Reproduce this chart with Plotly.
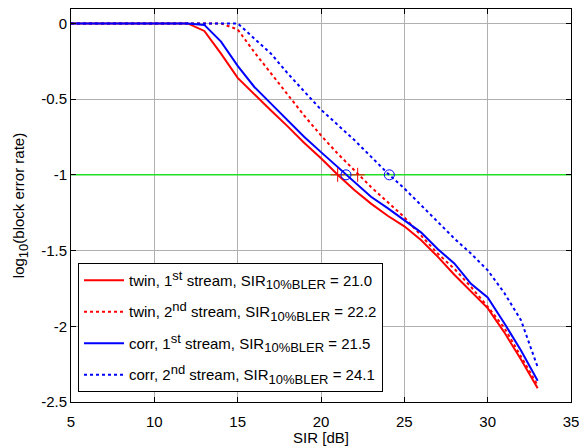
import plotly.graph_objects as go

sir = list(range(5, 34))

twin_1st = [0, 0, 0, 0, 0, 0, 0, 0, -0.05, -0.20, -0.36, -0.47, -0.575, -0.68, -0.79, -0.89,
            -1.00, -1.10, -1.19, -1.27, -1.34, -1.43, -1.54, -1.66, -1.77, -1.88, -2.04, -2.22, -2.41]
twin_2nd = [0, 0, 0, 0, 0, 0, 0, 0, 0, 0, -0.04, -0.19, -0.33, -0.47, -0.61, -0.74,
            -0.86, -0.97, -1.08, -1.18, -1.28, -1.40, -1.52, -1.62, -1.74, -1.87, -2.01, -2.20, -2.39]
corr_1st = [0, 0, 0, 0, 0, 0, 0, 0, -0.01, -0.12, -0.28, -0.42, -0.53, -0.64, -0.75, -0.85,
            -0.95, -1.05, -1.145, -1.22, -1.30, -1.38, -1.49, -1.585, -1.72, -1.81, -1.98, -2.16, -2.36]
corr_2nd = [0, 0, 0, 0, 0, 0, 0, 0, 0, 0, 0, -0.10, -0.20, -0.33, -0.45, -0.57,
            -0.67, -0.77, -0.88, -0.99, -1.09, -1.20, -1.31, -1.42, -1.52, -1.63, -1.78, -1.96, -2.27]

sir10_twin = [21.0, 22.2]
sir10_corr = [21.5, 24.1]
target_level = -1
x_span = [5, 35]

SS = '<span style="font-size:13px">'
labels = [
    f"twin, 1<sup>{SS}st</span></sup> stream, SIR<sub>{SS}10%BLER</span></sub> = 21.0",
    f"twin, 2<sup>{SS}nd</span></sup> stream, SIR<sub>{SS}10%BLER</span></sub> = 22.2",
    f"corr, 1<sup>{SS}st</span></sup> stream, SIR<sub>{SS}10%BLER</span></sub> = 21.5",
    f"corr, 2<sup>{SS}nd</span></sup> stream, SIR<sub>{SS}10%BLER</span></sub> = 24.1",
]

xticks = [5, 10, 15, 20, 25, 30, 35]
yticks = [-2.5, -2, -1.5, -1, -0.5, 0]
yticktext = ["-2.5", "-2", "-1.5", "-1", "-0.5", "0"]

RED = "#ff0000"
BLUE = "#0000ff"
GREEN = "#22e022"
FONT = "Liberation Sans"
FS = 15

fig = go.Figure()
fig.add_trace(go.Scatter(x=x_span, y=[target_level, target_level], mode="lines",
                         line=dict(color=GREEN, width=1.5), showlegend=False, hoverinfo="skip"))

series = [(twin_1st, RED, "solid"), (twin_2nd, RED, "dot"),
          (corr_1st, BLUE, "solid"), (corr_2nd, BLUE, "dot")]
for i, (ys, col, dash) in enumerate(series):
    fig.add_trace(go.Scatter(x=sir, y=ys, mode="lines", name=labels[i],
                             line=dict(color=col, width=2, dash=dash),
                             legendgroup=f"g{i}"))

fig.add_trace(go.Scatter(x=sir10_twin, y=[target_level] * 2, mode="markers", showlegend=False,
                         marker=dict(symbol="cross-thin-open", size=10, color=RED,
                                     line=dict(color=RED, width=1))))
fig.add_trace(go.Scatter(x=sir10_corr, y=[target_level] * 2, mode="markers", showlegend=False,
                         marker=dict(symbol="circle-open", size=10, color=BLUE,
                                     line=dict(color=BLUE, width=1))))

axis_common = dict(showline=True, linecolor="black", linewidth=1, mirror="ticks",
                   ticks="inside", ticklen=5, tickcolor="black", automargin=False,
                   ticklabeloverflow="allow",
                   showgrid=True, gridcolor="#b0b0b0", gridwidth=1, zeroline=False,
                   tickfont=dict(family=FONT, size=FS, color="black"))

fig.update_layout(
    width=579, height=446,
    margin=dict(l=71, r=8, t=9, b=44),
    paper_bgcolor="white", plot_bgcolor="white",
    font=dict(family=FONT, size=FS, color="black"),
    xaxis=dict(range=[5, 35], tickvals=xticks, ticklabelstandoff=6,
               title=dict(text="SIR [dB]", standoff=1, font=dict(size=FS)), **axis_common),
    yaxis=dict(range=[-2.5, 0.095], tickvals=yticks, ticktext=yticktext,
               title=dict(text=f"log<sub>{SS}10</span></sub>(block error rate)", standoff=12,
                          font=dict(size=FS)),
               **axis_common),
    legend=dict(x=0.014, y=0.354, xanchor="left", yanchor="top",
                bgcolor="white", bordercolor="black", borderwidth=1, itemwidth=40,
                font=dict(family=FONT, size=FS), tracegroupgap=9, traceorder="grouped"),
)

fig.write_html("out.html")
